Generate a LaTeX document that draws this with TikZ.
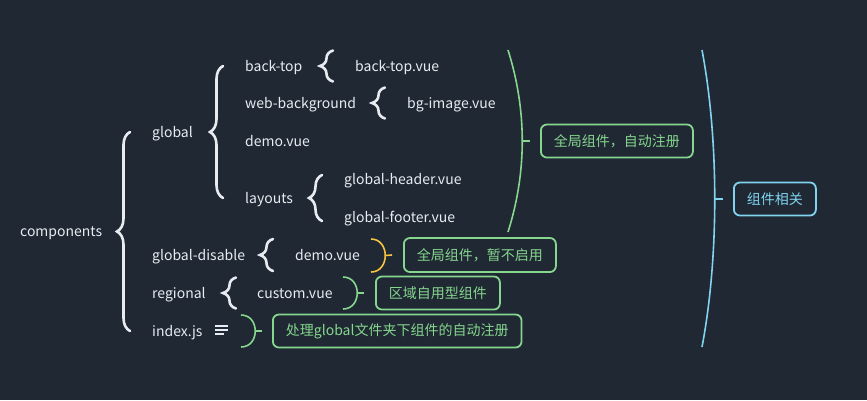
\documentclass[tikz,border=0pt]{standalone}
\usepackage{fontspec}
\setmainfont{Noto Sans CJK SC}
\usepackage{xcolor}
\usetikzlibrary{positioning,calc,decorations.pathreplacing}

\definecolor{bgdark}{RGB}{31,40,51}
\definecolor{txtwhite}{RGB}{232,236,242}
\definecolor{notegreen}{RGB}{134,214,142}
\definecolor{noteyellow}{RGB}{246,196,64}
\definecolor{noteblue}{RGB}{128,212,240}

\begin{document}
\begin{tikzpicture}[
    x=1pt, y=-1pt,
    item/.style={anchor=west, inner sep=0pt, text height=13pt, text depth=1.5pt, text=txtwhite, font=\fontsize{14}{16}\selectfont},
    note/.style={draw=#1, text=#1, rounded corners=6pt, line width=1.8pt, minimum height=33pt, inner xsep=13pt, anchor=west, font=\fontsize{14}{16}\selectfont},
    curly/.style={draw=txtwhite, line width=2.6pt, line cap=round, decorate, decoration={brace, amplitude=13pt}},
    paren/.style={draw=#1, line width=1.6pt},
    icon/.style={draw=txtwhite, line width=1.1pt}
]
    \useasboundingbox[fill=bgdark] (0,0) rectangle (867,400);

    % tree items
    \node[item] (comp) at (20,231) {components};
    \node[item] (glob) at (152,132) {global};
    \node[item] (gdis) at (152,255) {global-disable};
    \node[item] (regi) at (152,293) {regional};
    \node[item] (idx) at (152,331) {index.js};

    \node[item] (btop) at (245,66) {back-top};
    \node[item] (webbg) at (245,103) {web-background};
    \node[item] (gdemo) at (245,141) {demo.vue};
    \node[item] (lay) at (245,198) {layouts};

    \node[item] (btvue) at (355,66) {back-top.vue};
    \node[item] (bgimg) at (407,103) {bg-image.vue};
    \node[item] (ghead) at (344,179) {global-header.vue};
    \node[item] (gfoot) at (344,217) {global-footer.vue};
    \node[item] (ddemo) at (295,255) {demo.vue};
    \node[item] (cust) at (257,293) {custom.vue};

    % braces
    \draw[curly] ([xshift=-22pt]idx.west) -- ([xshift=-22pt]glob.west);
    \draw[curly] ([xshift=-22pt]lay.west) -- ([xshift=-22pt]btop.west);
    \draw[curly] ([xshift=-22pt,yshift=-15.5pt]btvue.west) -- ([xshift=-22pt,yshift=15.5pt]btvue.west);
    \draw[curly] ([xshift=-22pt,yshift=-15.5pt]bgimg.west) -- ([xshift=-22pt,yshift=15.5pt]bgimg.west);
    \draw[curly] ([xshift=-22pt,yshift=-4pt]gfoot.west) -- ([xshift=-22pt,yshift=4pt]ghead.west);
    \draw[curly] ([xshift=-22pt,yshift=-16pt]ddemo.west) -- ([xshift=-22pt,yshift=16pt]ddemo.west);
    \draw[curly] ([xshift=-21pt,yshift=-15.5pt]cust.west) -- ([xshift=-21pt,yshift=15.5pt]cust.west);

    % note icon
    \draw[icon] ($(idx.east)+(12,-5)$) -- ++(13,0);
    \draw[icon] ($(idx.east)+(12,-1)$) -- ++(13,0);
    \draw[icon] ($(idx.east)+(12,3)$) -- ++(9,0);

    % notes
    \node[note=notegreen] (nglob) at (540,141) {全局组件，自动注册};
    \node[note=notegreen, minimum height=34pt] (ndis) at (403,255) {全局组件，暂不启用};
    \node[note=notegreen] (nregi) at (375,293) {区域自用型组件};
    \node[note=notegreen] (nidx) at (272,331) {处理global文件夹下组件的自动注册};
    \node[note=noteblue] (nall) at (733,199) {组件相关};

    % summary brackets
    \coordinate (pglobT) at (508,50);
    \coordinate (pglobB) at (508,232);
    \draw[paren=notegreen] (pglobT) .. controls (527,110) and (527,172) .. (pglobB);
    \draw[paren=notegreen] (522,141) -- ([xshift=-10pt]nglob.west);

    \coordinate (pdisT) at (371,239);
    \coordinate (pdisB) at (371,272);
    \draw[paren=noteyellow] (pdisT) .. controls (390,239) and (390,272) .. (pdisB);
    \draw[paren=noteyellow] (385,255.5) -- ([xshift=-11pt]ndis.west);

    \coordinate (pregT) at (343,277);
    \coordinate (pregB) at (343,309);
    \draw[paren=notegreen] (pregT) .. controls (362,277) and (362,309) .. (pregB);
    \draw[paren=notegreen] (357,293) -- ([xshift=-11pt]nregi.west);

    \coordinate (pidxT) at (241,315);
    \coordinate (pidxB) at (241,347);
    \draw[paren=notegreen] (pidxT) .. controls (260,315) and (260,347) .. (pidxB);
    \draw[paren=notegreen] (255,331) -- ([xshift=-10pt]nidx.west);

    \coordinate (pallT) at (702,50);
    \coordinate (pallB) at (702,347);
    \draw[paren=noteblue] (pallT) .. controls (719,140) and (719,258) .. (pallB);
    \draw[paren=noteblue] (715,199) -- ([xshift=-10pt]nall.west);
\end{tikzpicture}
\end{document}
